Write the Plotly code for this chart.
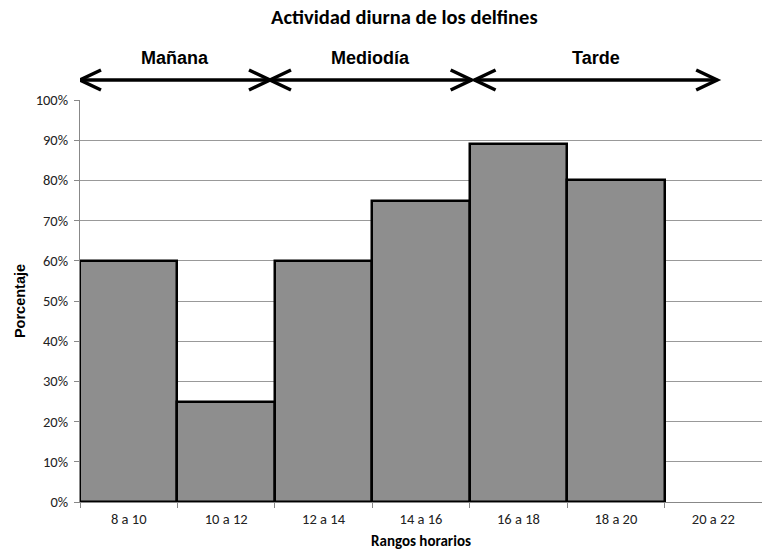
import plotly.graph_objects as go

categories = ["8 a 10", "10 a 12", "12 a 14", "14 a 16", "16 a 18", "18 a 20", "20 a 22"]
values = [60, 25, 60, 75, 89, 80, None]
y_ticks = [0, 10, 20, 30, 40, 50, 60, 70, 80, 90, 100]
periods = ["Mañana", "Mediodía", "Tarde"]
period_spans = [(-0.5, 1.45), (1.45, 3.52), (3.55, 6.04)]

TXT = "Carlito, Calibri, Lato, sans-serif"
ARIAL = "Liberation Sans, Arial, sans-serif"

fig = go.Figure(go.Bar(
    x=categories, y=values,
    marker=dict(color="#8e8e8e", line=dict(color="black", width=2.5)),
    width=1.0,
))

PLOT_H = 402
ARROW_Y = (502 - 80) / PLOT_H
LABEL_Y = (502 - 58) / PLOT_H
TITLE_Y = (502 - 17) / PLOT_H

shapes = []
annotations = []
for name, (a, b) in zip(periods, period_spans):
    shapes.append(dict(type="line", xref="x", yref="paper", x0=a, x1=b, y0=ARROW_Y, y1=ARROW_Y,
                       line=dict(color="black", width=3.5)))
    shapes.append(dict(type="path", xref="x", yref="paper", xsizemode="pixel", ysizemode="pixel",
                       xanchor=a, yanchor=ARROW_Y, path="M 21,-10 L 0,0 L 21,10",
                       line=dict(color="black", width=3.5)))
    shapes.append(dict(type="path", xref="x", yref="paper", xsizemode="pixel", ysizemode="pixel",
                       xanchor=b, yanchor=ARROW_Y, path="M -21,-10 L 0,0 L -21,10",
                       line=dict(color="black", width=3.5)))
    annotations.append(dict(x=(a + b) / 2, y=LABEL_Y, xref="x", yref="paper", yanchor="middle",
                            text=f"<b>{name}</b>", showarrow=False,
                            font=dict(family=ARIAL, size=18, color="black")))

annotations.append(dict(x=(404 - 80) / 682, y=TITLE_Y, xref="paper", yref="paper", yanchor="middle",
                        text="<b>Actividad diurna de los delfines</b>", showarrow=False,
                        font=dict(family=TXT, size=20.5, color="black")))

fig.update_layout(
    width=762, height=555,
    margin=dict(l=80, r=0, t=100, b=53, autoexpand=False),
    paper_bgcolor="white", plot_bgcolor="white",
    showlegend=False, bargap=0,
    shapes=shapes, annotations=annotations,
    font=dict(family=TXT, size=14.5, color="#222"),
)
fig.update_xaxes(
    type="category", range=[-0.5, 6.5],
    showline=True, linecolor="#888", linewidth=1,
    ticks="outside", tickson="boundaries", ticklen=5, tickcolor="#888",
    showgrid=False, ticklabelstandoff=4,
    title=dict(text="<b>Rangos horarios</b>", font=dict(family=TXT, size=15, color="black"), standoff=8),
    tickfont=dict(family=TXT, size=14.5, color="#222"),
)
fig.update_yaxes(
    range=[0, 100], tickvals=y_ticks, ticktext=[f"{v}%" for v in y_ticks],
    showline=True, linecolor="#888", linewidth=1,
    ticks="outside", ticklen=5, tickcolor="#888",
    showgrid=True, gridcolor="#999", gridwidth=1, zeroline=False, ticklabelstandoff=3,
    title=dict(text="<b>Porcentaje</b>", font=dict(family=ARIAL, size=14.5, color="black"), standoff=6),
    tickfont=dict(family=TXT, size=14.5, color="#222"),
)

fig.write_html("out.html", config={"displayModeBar": False},
               post_script="document.body.style.margin='0';document.body.style.overflow='hidden';")
